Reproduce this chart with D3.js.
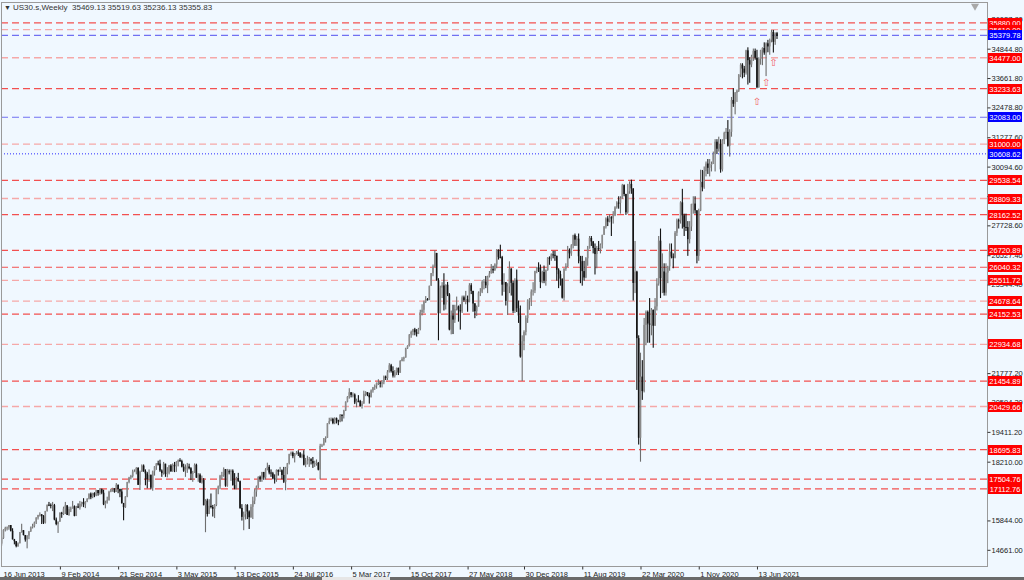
<!DOCTYPE html>
<html>
<head>
<meta charset="utf-8">
<script src="https://cdn.jsdelivr.net/npm/d3@7"></script>
<style>
body { margin: 0; background: #f0f8ff; }
svg { display: block; font-family: "Liberation Sans", Arial, sans-serif; }
</style>
</head>
<body>
<div id="chart"></div>
<script>
// US30.s weekly candles, 16 Jun 2013 .. 29 Aug 2021 (one entry per week)
var startWeek = new Date(2013, 5, 16);
var headerOHLC = [35469.13, 35519.63, 35236.13, 35355.83];
var firstOpen = 15070;

var weeklyClose = [
  // 2013
  14800,14910,15135,15464,15543,15559,15658,15425,15081,15010,14810,14922,15376,15452,15258,15073,15237,15400,15570,15615,15762,15962,16064,16086,16020,15755,16221,16479,16470,
  // 2014
  16437,16458,15879,15698,15794,16154,16103,16321,16452,16065,16302,16323,16412,16027,16408,16361,16512,16583,16491,16606,16717,16924,16776,16947,16851,17068,16944,17100,16960,16493,16553,16662,17001,17098,17137,16988,17280,17113,17009,16544,16380,16805,17390,17573,17634,17810,17828,17958,17280,17804,18053,17833,
  // 2015
  17737,17511,17672,17165,17824,18019,18140,18133,17856,17749,18128,17712,17763,18057,17826,18080,18024,18191,18272,18232,18010,17849,17898,18015,17947,17730,17760,18086,17568,17690,17373,17477,16460,16643,16102,16433,16385,16315,16472,17084,17215,17646,17664,17910,17245,17824,17798,17847,17265,17128,17552,17425,
  // 2016
  16346,15988,16093,16466,16205,15973,16392,16640,17006,17213,17602,17516,17792,17577,17897,18003,17773,17740,17535,17500,17873,17807,17865,17675,17400,17949,18147,18516,18570,18432,18543,18576,18552,18395,18492,18085,18124,18261,18308,18241,18138,18145,18161,17888,18847,18868,19152,19170,19757,19843,19934,19763,
  // 2017
  19964,19885,19827,20094,20071,20269,20624,20822,21005,20902,20914,20596,20663,20656,20453,20548,20940,21007,20897,20805,21080,21206,21271,21384,21394,21350,21414,21638,21580,21830,22092,21858,21675,21814,21988,21798,22268,22350,22405,22774,22871,23329,23434,23539,23423,23358,23558,24232,24329,24651,24754,24719,25296,
  // 2018
  25803,26071,26616,25521,24191,25219,25310,24539,25336,24947,23533,24103,23933,24360,24463,24311,24263,24831,24715,24753,24635,25317,25090,24581,24271,24456,25019,25058,25451,25463,25313,25669,25790,25965,25917,26155,26744,26458,26447,25340,25444,24688,25270,25989,25413,24285,25538,24389,24100,22445,23062,23433,
  // 2019
  23996,24706,24737,25064,25106,25883,26031,26026,25450,25849,25502,25929,26425,26412,26559,26543,26505,25942,25764,25585,24815,25984,26089,26719,26600,26922,27332,27154,27192,26485,26287,25886,25629,26403,26797,27220,27080,26820,26573,26817,26771,26959,27347,27681,28005,27876,28051,28015,28135,28455,28645,28635,
  // 2020
  28824,29348,28990,28256,29102,29398,29219,25409,25865,23186,19174,21637,21053,23719,24242,23775,23724,24331,23685,24465,25383,27111,25605,25871,25016,25827,26075,26672,26470,26428,27433,27931,27930,28654,28133,27666,27657,27174,27683,28586,28606,28335,26502,28323,29479,29263,29910,30218,30046,30179,30199,30606,
  // 2021
  31098,30814,30997,29983,31148,31458,31494,30932,31496,32779,32628,33073,33153,33801,34200,34043,33875,34778,34382,34208,34529,34756,34480,33290,34433,34786,34870,34687,35061,34935,35208,35515,35120,35455,35355.83
];

var weeklyHigh = [
  15340,15000,15160,15490,15590,15600,15660,15640,15530,15100,15000,14960,15380,15710,15450,15200,15250,15420,15600,15710,15800,15970,16070,16170,16100,16060,16230,16480,16590,
  16530,16590,16510,15960,15800,16170,16190,16400,16590,16460,16400,16400,16630,16450,16430,16530,16630,16600,16740,16620,16740,16930,16970,16960,16980,17080,17070,17150,17130,17080,16640,16800,17040,17120,17160,17140,17350,17290,17120,17120,16550,16820,17400,17600,17680,17890,17900,17990,17990,17850,18100,18100,
  17900,17800,17900,17700,17850,18030,18150,18250,18290,17900,18200,18110,17990,18080,18110,18140,18200,18230,18300,18350,18290,18130,18100,18160,18130,17990,17840,18140,18130,17750,17740,17650,17550,16700,16720,16700,16930,16470,16500,17100,17250,17680,17800,17980,17900,17920,17900,17900,17900,17750,17600,17760,
  17450,16500,16200,16500,16500,16250,16500,16800,17100,17250,17620,17650,17800,17800,17950,18170,18080,17900,17800,17700,17900,17900,18000,17900,18000,18000,18160,18530,18620,18620,18560,18640,18670,18600,18540,18670,18360,18450,18400,18350,18400,18250,18300,18200,18930,18930,19160,19230,19760,19980,19990,19980,
  19999,19990,19900,20130,20120,20300,20640,20850,21170,21010,21000,20960,20750,20890,20700,20650,21070,21050,21010,20990,21120,21220,21320,21400,21530,21450,21500,21680,21680,21900,22180,22150,22050,21900,22000,22000,22300,22420,22440,22800,22900,23350,23490,23560,23600,23550,23600,24330,24550,24700,24880,24800,25300,
  25810,26150,26720,26620,25600,25300,25440,25800,25350,25450,25000,24300,24530,24530,24860,24500,24550,24900,24900,25090,24900,25400,25400,25000,24600,24500,25070,25200,25530,25560,25690,25700,25890,26170,26100,26200,26770,26760,26950,26500,25800,25400,25400,26280,26000,25500,25600,25950,24700,24500,23300,23500,
  24100,24750,24800,25150,25440,25900,26060,26240,26150,25900,26110,25950,26450,26480,26600,26700,26700,26400,26000,25900,25500,26000,26200,26900,26800,26970,27350,27400,27300,27400,26500,26500,26300,26450,26900,27300,27300,27100,27000,26900,27100,27000,27350,27700,28050,28100,28170,28100,28300,28500,28700,28900,
  28900,29400,29380,29000,29400,29500,29570,29100,27100,25900,23300,22600,22300,24000,24300,24300,24800,24400,24300,24800,25600,27300,27600,26600,26200,26200,26100,27000,27000,26600,27500,28000,28000,28700,29200,28200,28200,27900,27900,28600,28900,28900,28300,28400,29970,29960,30100,30300,30400,30400,30300,30700,
  31200,31200,31300,31200,31200,31500,31650,31970,31600,32900,33250,33100,33200,33820,34260,34260,34150,34800,34900,34500,34600,34850,34850,34800,34500,34800,34900,35100,35100,35200,35250,35600,35600,35500,35519.63
];

var weeklyLow = [
  14760,14550,14830,15100,15400,15440,15470,15400,15080,14880,14760,14780,14950,15350,15240,14990,14720,15090,15380,15520,15560,15700,15880,16000,15700,15700,15720,16200,16420,
  16330,16220,15850,15650,15340,15790,15950,16060,16100,16060,16030,16180,16340,16010,16020,16340,16280,16400,16380,16340,16580,16690,16700,16740,16780,16820,16840,16880,16900,16460,16330,16520,16640,16980,17000,16960,16990,16940,16780,16520,15850,16350,16780,17340,17500,17570,17800,17700,17270,17070,17800,17800,
  17260,17140,17400,17100,17040,17650,17880,18060,17800,17600,17690,17600,17580,17700,17800,17800,17790,17800,18020,18200,17980,17800,17600,17760,17900,17470,17400,17800,17560,17400,17350,17330,16450,15370,16000,16200,16330,16000,15940,16420,16900,17100,17500,17600,17200,17200,17700,17440,17250,17100,17100,17400,
  16310,15840,15450,15880,15900,15500,15950,15900,16500,16800,17150,17400,17400,17480,17500,17860,17700,17600,17500,17330,17400,17650,17800,17500,17350,17060,17700,18100,18450,18350,18180,18500,18440,18360,18350,18060,17990,18100,18000,18100,17960,18000,18050,17860,17500,18800,18870,18980,19170,19720,19840,19720,
  19720,19750,19680,19800,19830,19950,20250,20600,20750,20800,20800,20530,20400,20600,20420,20350,20600,20850,20850,20550,20800,20990,21100,21150,21300,21200,21200,21330,21500,21500,21800,21800,21600,21600,21700,21700,21790,22250,22250,22400,22750,22850,23200,23300,23300,23250,23350,23500,24100,24200,24600,24700,24800,
  25300,25680,26050,25500,23100,24200,24800,24300,24340,24880,23500,23340,23350,23800,24300,23850,23530,24200,24650,24550,24250,24700,24960,24250,23990,24080,24700,24880,25000,25150,25200,25000,25630,25900,25800,25900,26000,26350,26400,24900,25050,24500,24120,25000,24900,24200,24200,24240,23800,22400,21460,22700,
  23300,23800,24330,24480,24900,25000,25800,25850,25200,25400,25400,25300,25900,26140,26300,26400,26300,25500,25200,25300,24780,24700,25900,26050,26400,26500,26800,26900,26900,26200,25400,25300,25500,25600,26100,26800,26900,26600,25750,26000,26700,26600,26800,27400,27600,27700,27850,27300,27800,28100,28400,28400,
  28200,28800,28900,28150,28200,29000,29000,24700,25000,21100,18900,18210,20700,21000,22900,23000,23000,23300,22800,23700,24300,25300,24800,25000,24900,24900,25400,25900,26400,26000,26400,27300,27600,27800,27600,27300,27500,26500,27000,27500,28200,28200,26200,26300,28300,29100,29200,29700,29800,29700,29900,30200,
  29900,30600,30700,29850,29900,31000,31200,30900,30500,31300,32500,32200,32700,33100,33700,33650,33700,33800,33400,33470,34100,34350,34400,33250,33270,34200,34180,34600,33740,34700,34600,35100,34690,35000,35236.13
];

// horizontal levels drawn on the chart
var levelPrices = [35880.00, 35610.00, 35379.78, 34477.00, 33233.63, 32083.00, 31000.00, 30608.62, 29538.54, 28809.33, 28162.52,
  26720.89, 26040.32, 25511.72, 24678.64, 24152.53, 22934.68, 21454.89, 20429.66, 18695.83, 17504.76, 17112.76];
var levelKinds = ['red','pink','blue','pink','red','blue','pink','dot','red','pink','red',
  'red','red','pink','pink','red','pink','red','pink','red','red','red'];

// arrow objects (week, price)
var arrowWeeks = ['2021-06-13', '2021-07-18', '2021-08-15'];
var arrowPrices = [32740, 33500, 34310];

// price scale labels (the ones fully covered by level boxes are left out)
var priceTicks = [36027.8, 34844.8, 33661.8, 32478.8, 31277.6, 30094.6, 28911.6, 27728.6, 26527.4, 25344.4,
  21777.2, 20594.2, 19411.2, 18210.0, 15844.0, 14661.0];
var dateTicks = ['2013-06-16','2014-02-09','2014-09-21','2015-05-03','2015-12-13','2016-07-24','2017-03-05',
  '2017-10-15','2018-05-27','2018-12-30','2019-08-11','2020-03-22','2020-11-01','2021-06-13'];

var W = 1024, H = 580;
var plot = {left: 1, top: 2, right: 987, bottom: 566};

var styles = {
  red:  {stroke: '#f25050', dash: '7,4', box: '#ff0000', width: 1.2},
  pink: {stroke: '#f5a8a8', dash: '7,4', box: '#ff0000', width: 1.4},
  blue: {stroke: '#7070f2', dash: '7,4', box: '#0000ff', width: 1.2},
  dot:  {stroke: '#2a2aff', dash: '1,2', box: '#0000ff', width: 1}
};

function weekIndex(s) {
  var p = s.split('-');
  var d = new Date(+p[0], +p[1] - 1, +p[2]);
  return Math.round((d - startWeek) / (7 * 864e5));
}

var bars = weeklyClose.map(function(c, i) {
  var o = i ? weeklyClose[i - 1] : firstOpen;
  if (i === weeklyClose.length - 1) o = headerOHLC[0];
  return {i: i, o: o, h: weeklyHigh[i], l: weeklyLow[i], c: c};
});

var x = d3.scaleLinear().domain([0, 428]).range([-2, 777]);
var y = d3.scaleLinear().domain([14661, 36027.8]).range([549.8, 19.3]);

var svg = d3.select('#chart').append('svg')
  .attr('width', W).attr('height', H);

svg.append('rect').attr('width', W).attr('height', H).attr('fill', '#f0f8ff');

svg.append('defs').append('clipPath').attr('id', 'clip')
  .append('rect')
  .attr('x', plot.left).attr('y', plot.top)
  .attr('width', plot.right - plot.left).attr('height', plot.bottom - plot.top);

var g = svg.append('g').attr('clip-path', 'url(#clip)');

// level lines
g.selectAll('line.level')
  .data(levelPrices)
  .enter().append('line')
  .attr('class', 'level')
  .attr('x1', plot.left).attr('x2', plot.right)
  .attr('y1', function(d) { return y(d); })
  .attr('y2', function(d) { return y(d); })
  .attr('stroke', function(d, i) { return styles[levelKinds[i]].stroke; })
  .attr('stroke-dasharray', function(d, i) { return styles[levelKinds[i]].dash; })
  .attr('stroke-width', function(d, i) { return styles[levelKinds[i]].width; });

// candles
var bw = 1.6;
var candle = g.selectAll('g.bar')
  .data(bars)
  .enter().append('g')
  .attr('class', 'bar');

candle.append('rect')
  .attr('x', function(d) { return x(d.i) - 0.55; })
  .attr('width', 1.1)
  .attr('y', function(d) { return y(Math.max(d.h, d.o, d.c)); })
  .attr('height', function(d) { return y(Math.min(d.l, d.o, d.c)) - y(Math.max(d.h, d.o, d.c)); })
  .attr('fill', function(d) { return d.c >= d.o ? '#6e6e6e' : '#141414'; });

candle.append('rect')
  .attr('x', function(d) { return x(d.i) - bw / 2; })
  .attr('width', bw)
  .attr('y', function(d) { return y(Math.max(d.o, d.c)); })
  .attr('height', function(d) { return Math.max(1, y(Math.min(d.o, d.c)) - y(Math.max(d.o, d.c))); })
  .attr('fill', function(d) { return d.c >= d.o ? '#8a8a8a' : '#141414'; });

// arrows
g.selectAll('text.arrow')
  .data(arrowWeeks)
  .enter().append('text')
  .attr('class', 'arrow')
  .attr('x', function(d) { return x(weekIndex(d)); })
  .attr('y', function(d, i) { return y(arrowPrices[i]) + 4; })
  .attr('text-anchor', 'middle')
  .attr('font-family', 'DejaVu Sans')
  .attr('font-size', 10)
  .attr('fill', '#f06060')
  .text('\u21E7');

// frame
svg.append('rect')
  .attr('x', plot.left + 0.5).attr('y', plot.top + 0.5)
  .attr('width', plot.right - plot.left).attr('height', plot.bottom - plot.top)
  .attr('fill', 'none').attr('stroke', '#9a9a9a');

// price axis
var yAxis = svg.append('g')
  .attr('transform', 'translate(' + (plot.right + 0.5) + ',0)')
  .call(d3.axisRight(y).tickValues(priceTicks).tickFormat(d3.format('.2f')).tickSize(3).tickPadding(1));
yAxis.select('.domain').remove();
yAxis.selectAll('.tick line').attr('stroke', '#333');
yAxis.selectAll('.tick text')
  .attr('font-family', '"Liberation Sans", Arial, sans-serif')
  .attr('font-size', 7.5).attr('fill', '#222');

// level labels
var lab = svg.selectAll('g.lab')
  .data(levelPrices)
  .enter().append('g')
  .attr('class', 'lab')
  .attr('transform', function(d) { return 'translate(' + (plot.right + 1) + ',' + Math.round(y(d)) + ')'; });
lab.append('rect')
  .attr('x', 0).attr('y', -5).attr('width', 34).attr('height', 10)
  .attr('fill', function(d, i) { return styles[levelKinds[i]].box; });
lab.append('text')
  .attr('x', 17).attr('y', 3)
  .attr('text-anchor', 'middle')
  .attr('font-size', 7.5).attr('fill', '#fff')
  .text(function(d) { return d3.format('.2f')(d); });

// time axis
var xAxis = svg.append('g')
  .attr('transform', 'translate(0,' + (plot.bottom + 0.5) + ')')
  .call(d3.axisBottom(x)
    .tickValues(dateTicks.map(weekIndex))
    .tickFormat(function(d, i) { return d3.timeFormat('%-d %b %Y')(d3.timeParse('%Y-%m-%d')(dateTicks[i])); })
    .tickSize(3).tickPadding(2));
xAxis.select('.domain').remove();
xAxis.selectAll('.tick line').attr('stroke', '#333');
xAxis.selectAll('.tick text')
  .attr('text-anchor', 'start').attr('x', 1)
  .attr('font-family', '"Liberation Sans", Arial, sans-serif')
  .attr('font-size', 7.5).attr('fill', '#222');
xAxis.select('.tick').select('text').attr('x', plot.left + 2 - x(0));
xAxis.select('.tick').select('line').remove();

// header
svg.append('text')
  .attr('x', 4).attr('y', 10)
  .attr('font-size', 7).attr('fill', '#333')
  .text('\u25BC');
svg.append('text')
  .attr('x', 13).attr('y', 10)
  .attr('font-size', 8).attr('fill', '#333')
  .attr('xml:space', 'preserve')
  .text('US30.s,Weekly  ' + headerOHLC.map(d3.format('.2f')).join(' '));

// chart shift marker
svg.append('path')
  .attr('d', d3.symbol(d3.symbolTriangle, 28)())
  .attr('transform', 'translate(' + (plot.right - 12) + ',' + (plot.top + 4) + ') rotate(180)')
  .attr('fill', '#a8a8a8');

// bottom status strip
svg.append('rect').attr('x', 0).attr('y', 577).attr('width', W).attr('height', 3).attr('fill', '#6a6a6a');
svg.append('rect').attr('x', 322).attr('y', 577).attr('width', 68).attr('height', 3).attr('fill', '#e6e6e6');
</script>
</body>
</html>
